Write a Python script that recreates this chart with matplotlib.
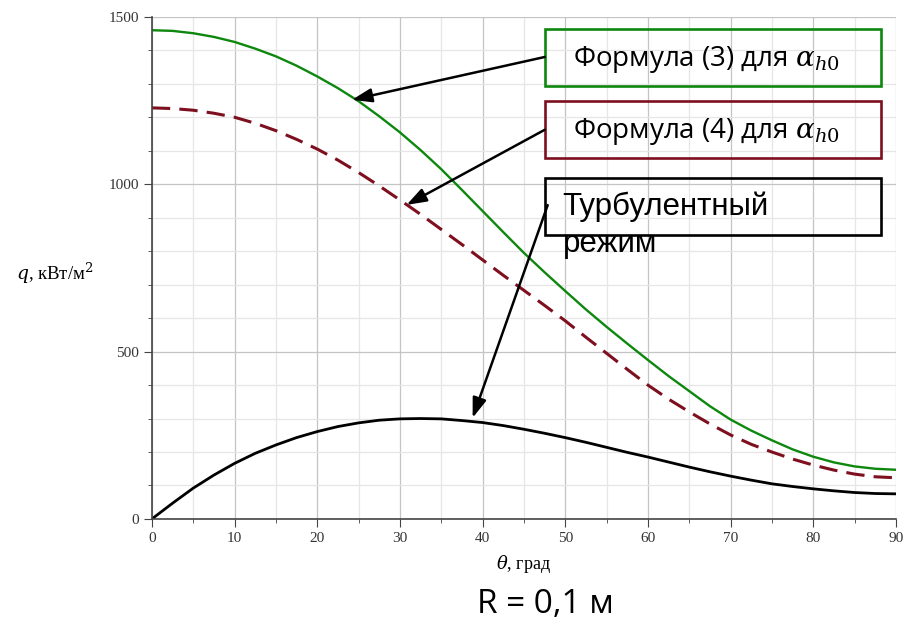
import matplotlib.pyplot as plt
from matplotlib.patches import Rectangle
from matplotlib.ticker import MultipleLocator

# значения, шаг 2.5 град
theta = [0, 2.5, 5, 7.5, 10, 12.5, 15, 17.5, 20, 22.5, 25, 27.5, 30, 32.5, 35,
         37.5, 40, 42.5, 45, 47.5, 50, 52.5, 55, 57.5, 60, 62.5, 65, 67.5, 70,
         72.5, 75, 77.5, 80, 82.5, 85, 87.5, 90]
q_f3 = [1460, 1458, 1451, 1440, 1425, 1405, 1382, 1354, 1322, 1287, 1248, 1203,
        1155, 1102, 1045, 983, 920, 857, 795, 737, 681, 626, 574, 524, 475, 427,
        382, 337, 297, 264, 235, 208, 186, 169, 157, 150, 147]
q_f4 = [1228, 1226, 1221, 1212, 1200, 1182, 1160, 1134, 1105, 1072, 1035, 995,
        953, 910, 865, 820, 774, 728, 683, 638, 592, 543, 495, 447, 400, 358,
        320, 284, 251, 223, 200, 179, 161, 146, 134, 126, 123]
q_turb = [0, 47, 92, 131, 166, 196, 221, 243, 261, 276, 287, 295, 299, 300, 299,
          294, 288, 279, 268, 256, 243, 229, 214, 199, 185, 170, 155, 141, 128,
          116, 105, 97, 90, 84, 79, 76, 75]

label_f3 = r"Формула (3) для $\alpha_{h0}$"
label_f4 = r"Формула (4) для $\alpha_{h0}$"
label_turb = ["Турбулентный", "режим"]

green = "#0d870d"
maroon = "#7d0f1e"

plt.rcParams["mathtext.fontset"] = "dejavuserif"

fig = plt.figure(figsize=(9.04, 6.23), dpi=100)
ax = fig.add_axes([0.168, 0.167, 0.823, 0.806])

ax.plot(theta, q_f3, color=green, lw=1.7)
ax.plot(theta, q_f4, color=maroon, lw=2.2, dashes=(6, 3))
ax.plot(theta, q_turb, color="black", lw=2.0)

ax.set_xlim(0, 90)
ax.set_ylim(0, 1500)
ax.xaxis.set_major_locator(MultipleLocator(10))
ax.xaxis.set_minor_locator(MultipleLocator(5))
ax.yaxis.set_major_locator(MultipleLocator(500))
ax.yaxis.set_minor_locator(MultipleLocator(100))
ax.grid(which="major", color="#c4c4c4", lw=0.9)
ax.grid(which="minor", color="#e6e6e6", lw=0.9)
ax.set_axisbelow(True)

for s in ["top", "right"]:
    ax.spines[s].set_visible(False)
for s in ["left", "bottom"]:
    ax.spines[s].set_color("#444444")
    ax.spines[s].set_linewidth(1.2)

ax.tick_params(which="major", length=6, color="#444444", labelsize=11,
               labelcolor="#333333")
ax.tick_params(which="minor", length=3, color="#444444")
for lab in ax.get_xticklabels() + ax.get_yticklabels():
    lab.set_family("Liberation Serif")

ax.set_xlabel(r"$\theta$, град", family="Liberation Serif", fontsize=13,
              labelpad=6)
ax.set_ylabel(r"$q$, кВт/м$^2$", family="Liberation Serif", fontsize=13.5,
              rotation=0, va="center", ha="center")
ax.yaxis.set_label_coords(-0.131, 0.49)

# рамки с подписями
boxes = [(0.8625, green), (0.719, maroon), (0.566, "black")]
for y0, c in boxes:
    ax.add_patch(Rectangle((0.528, y0), 0.452, 0.114, transform=ax.transAxes,
                           fill=False, edgecolor=c, lw=1.9, zorder=5))

ax.text(0.566, 0.902, label_f3, transform=ax.transAxes, fontsize=20,
        family="Open Sans", va="baseline", zorder=6)
ax.text(0.566, 0.759, label_f4, transform=ax.transAxes, fontsize=20,
        family="Open Sans", va="baseline", zorder=6)
ax.text(0.552, 0.6056, label_turb[0], transform=ax.transAxes, fontsize=22.5,
        family="Liberation Sans", va="baseline", zorder=6)
ax.text(0.552, 0.532, label_turb[1], transform=ax.transAxes, fontsize=22.5,
        family="Liberation Sans", va="baseline", zorder=6)

arrow = dict(arrowstyle="-|>,head_length=1.2,head_width=0.42", color="black",
             lw=1.8, shrinkA=0, shrinkB=0)
ax.annotate("", xy=(24.2, 1252), xytext=(0.528, 0.92),
            textcoords="axes fraction", arrowprops=arrow, zorder=7)
ax.annotate("", xy=(30.8, 938), xytext=(0.528, 0.775),
            textcoords="axes fraction", arrowprops=arrow, zorder=7)
ax.annotate("", xy=(38.8, 302), xytext=(0.532, 0.625),
            textcoords="axes fraction", arrowprops=arrow, zorder=7)

fig.text(0.603, 0.029, "R = 0,1 м", fontsize=24, family="Open Sans",
         ha="center", va="center")

fig.savefig("out.png", dpi=100)
